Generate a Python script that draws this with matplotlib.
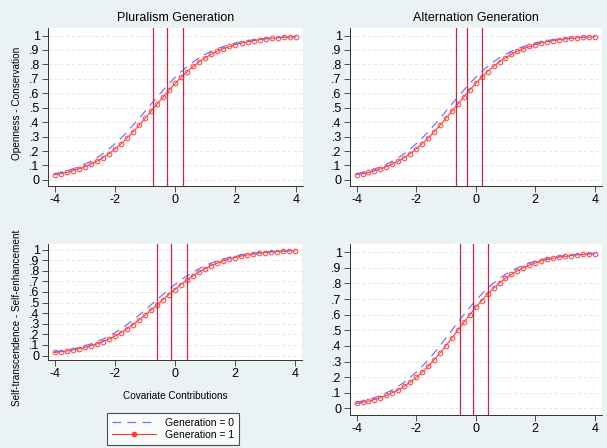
import matplotlib
matplotlib.use("Agg")
import matplotlib.pyplot as plt
from matplotlib.lines import Line2D

plt.rcParams["font.family"] = ["Liberation Sans", "DejaVu Sans"]

# x grid of the predicted margins
x = [-4.0, -3.8, -3.6, -3.4, -3.2, -3.0, -2.8, -2.6, -2.4, -2.2, -2.0,
     -1.8, -1.6, -1.4, -1.2, -1.0, -0.8, -0.6, -0.4, -0.2, 0.0,
     0.2, 0.4, 0.6, 0.8, 1.0, 1.2, 1.4, 1.6, 1.8, 2.0,
     2.2, 2.4, 2.6, 2.8, 3.0, 3.2, 3.4, 3.6, 3.8, 4.0]

# Pluralism / Openness - Conservation
pl_oc_g0 = [0.043, 0.052, 0.063, 0.076, 0.091, 0.109, 0.130, 0.154, 0.182, 0.214,
            0.250, 0.289, 0.332, 0.378, 0.426, 0.475, 0.525, 0.574, 0.622, 0.668,
            0.711, 0.750, 0.786, 0.818, 0.846, 0.870, 0.891, 0.909, 0.924, 0.937,
            0.948, 0.957, 0.964, 0.971, 0.976, 0.980, 0.984, 0.987, 0.989, 0.991, 0.993]
pl_oc_g1 = [0.036, 0.043, 0.052, 0.063, 0.076, 0.091, 0.109, 0.130, 0.154, 0.182,
            0.214, 0.250, 0.289, 0.332, 0.378, 0.426, 0.475, 0.525, 0.574, 0.622,
            0.668, 0.711, 0.750, 0.786, 0.818, 0.846, 0.870, 0.891, 0.909, 0.924,
            0.937, 0.948, 0.957, 0.964, 0.971, 0.976, 0.980, 0.984, 0.987, 0.989, 0.991]
pl_oc_vlines = [-0.73, -0.27, 0.25]

# Alternation / Openness - Conservation
al_oc_g0 = [0.043, 0.052, 0.063, 0.076, 0.091, 0.109, 0.130, 0.154, 0.182, 0.214,
            0.250, 0.289, 0.332, 0.378, 0.426, 0.475, 0.525, 0.574, 0.622, 0.668,
            0.711, 0.750, 0.786, 0.818, 0.846, 0.870, 0.891, 0.909, 0.924, 0.937,
            0.948, 0.957, 0.964, 0.971, 0.976, 0.980, 0.984, 0.987, 0.989, 0.991, 0.993]
al_oc_g1 = [0.036, 0.043, 0.052, 0.063, 0.076, 0.091, 0.109, 0.130, 0.154, 0.182,
            0.214, 0.250, 0.289, 0.332, 0.378, 0.426, 0.475, 0.525, 0.574, 0.622,
            0.668, 0.711, 0.750, 0.786, 0.818, 0.846, 0.870, 0.891, 0.909, 0.924,
            0.937, 0.948, 0.957, 0.964, 0.971, 0.976, 0.980, 0.984, 0.987, 0.989, 0.991]
al_oc_vlines = [-0.67, -0.28, 0.22]

# Pluralism / Self-transcendence - Self-enhancement
pl_st_g0 = [0.036, 0.043, 0.052, 0.063, 0.076, 0.091, 0.109, 0.130, 0.154, 0.182,
            0.214, 0.250, 0.289, 0.332, 0.378, 0.426, 0.475, 0.525, 0.574, 0.622,
            0.668, 0.711, 0.750, 0.786, 0.818, 0.846, 0.870, 0.891, 0.909, 0.924,
            0.937, 0.948, 0.957, 0.964, 0.971, 0.976, 0.980, 0.984, 0.987, 0.989, 0.991]
pl_st_g1 = [0.029, 0.036, 0.043, 0.052, 0.063, 0.076, 0.091, 0.109, 0.130, 0.154,
            0.182, 0.214, 0.250, 0.289, 0.332, 0.378, 0.426, 0.475, 0.525, 0.574,
            0.622, 0.668, 0.711, 0.750, 0.786, 0.818, 0.846, 0.870, 0.891, 0.909,
            0.924, 0.937, 0.948, 0.957, 0.964, 0.971, 0.976, 0.980, 0.984, 0.987, 0.989]
pl_st_vlines = [-0.58, -0.11, 0.42]

# Alternation / Self-transcendence - Self-enhancement
al_st_g0 = [0.039, 0.047, 0.057, 0.069, 0.083, 0.100, 0.119, 0.142, 0.168, 0.198,
            0.231, 0.269, 0.310, 0.354, 0.401, 0.450, 0.500, 0.550, 0.599, 0.646,
            0.690, 0.731, 0.769, 0.802, 0.832, 0.858, 0.881, 0.900, 0.917, 0.931,
            0.943, 0.953, 0.961, 0.968, 0.973, 0.978, 0.982, 0.985, 0.988, 0.990, 0.992]
al_st_g1 = [0.032, 0.039, 0.047, 0.057, 0.069, 0.083, 0.100, 0.119, 0.142, 0.168,
            0.198, 0.231, 0.269, 0.310, 0.354, 0.401, 0.450, 0.500, 0.550, 0.599,
            0.646, 0.690, 0.731, 0.769, 0.802, 0.832, 0.858, 0.881, 0.900, 0.917,
            0.931, 0.943, 0.953, 0.961, 0.968, 0.973, 0.978, 0.982, 0.985, 0.988, 0.990]
al_st_vlines = [-0.54, -0.10, 0.40]

xticks = [-4, -2, 0, 2, 4]
yticks = [0, 0.1, 0.2, 0.3, 0.4, 0.5, 0.6, 0.7, 0.8, 0.9, 1.0]
ytick_labels = ["0", ".1", ".2", ".3", ".4", ".5", ".6", ".7", ".8", ".9", "1"]

BG = "#eaf2f3"
BLUE = "#7474ff"
RED = "#ff3a3a"
VLINE = "#cc2448"

W, H = 607, 448
fig = plt.figure(figsize=(W / 100, H / 100), dpi=100, facecolor=BG)


def box(left, top, right, bottom):
    return [left / W, 1 - bottom / H, (right - left) / W, (bottom - top) / H]


def panel(rect, g0, g1, vlines, title=None):
    ax = fig.add_axes(box(*rect))
    ax.set_facecolor("white")
    for y in yticks:
        ax.axhline(y, color="#e4e4e4", lw=0.6, ls=(0, (4, 3)), zorder=0)
    ax.plot(x, g0, color=BLUE, lw=0.9, ls=(0, (7, 5)), zorder=3)
    ax.plot(x, g1, color=RED, lw=0.8, marker="o", ms=3.3, mfc="none",
            mec="#ff5050", mew=0.8, zorder=2)
    for v in vlines:
        ax.axvline(v, color=VLINE, lw=0.9, zorder=4)
    ax.set_xlim(-4.22, 4.24)
    ax.set_ylim(-0.042, 1.052)
    ax.set_xticks(xticks)
    ax.set_xticklabels([str(t) for t in xticks])
    ax.set_yticks(yticks)
    ax.set_yticklabels(ytick_labels)
    ax.tick_params(labelsize=9, length=4, width=0.6, color="#333333", pad=2)
    for s in ["top", "right"]:
        ax.spines[s].set_visible(False)
    for s in ["left", "bottom"]:
        ax.spines[s].set_linewidth(0.7)
        ax.spines[s].set_color("#333333")
    if title:
        ax.set_title(title, fontsize=9, pad=5)
    return ax


panel((48, 28, 303, 186), pl_oc_g0, pl_oc_g1, pl_oc_vlines, "Pluralism Generation")
panel((350, 28, 602, 186), al_oc_g0, al_oc_g1, al_oc_vlines, "Alternation Generation")
panel((48, 244, 302, 360), pl_st_g0, pl_st_g1, pl_st_vlines)
panel((350, 244, 602, 415), al_st_g0, al_st_g1, al_st_vlines)

fig.text(17 / W, 1 - 103 / H, "Openness - Conservation", rotation=90,
         ha="center", va="center", fontsize=7.2)
fig.text(17 / W, 1 - 318 / H, "Self-transcendence - Self-enhancement", rotation=90,
         ha="center", va="center", fontsize=7.2)
fig.text(175 / W, 1 - 396 / H, "Covariate Contributions",
         ha="center", va="center", fontsize=7.2)

handles = [
    Line2D([], [], color=BLUE, lw=0.9, ls=(0, (7, 5))),
    Line2D([], [], color=RED, lw=0.8, marker="o", ms=3, mfc=RED, mec=RED),
]
leg = fig.legend(handles, ["Generation = 0", "Generation = 1"],
                 loc="center", bbox_to_anchor=(173 / W, 1 - 429 / H),
                 fontsize=7.5, frameon=True, fancybox=False, numpoints=1,
                 handlelength=4.2, handletextpad=0.9, borderpad=0.5,
                 labelspacing=0.2, borderaxespad=0)
leg.get_frame().set_edgecolor("#222222")
leg.get_frame().set_linewidth(0.8)

fig.savefig("out.png", dpi=100, facecolor=BG)
